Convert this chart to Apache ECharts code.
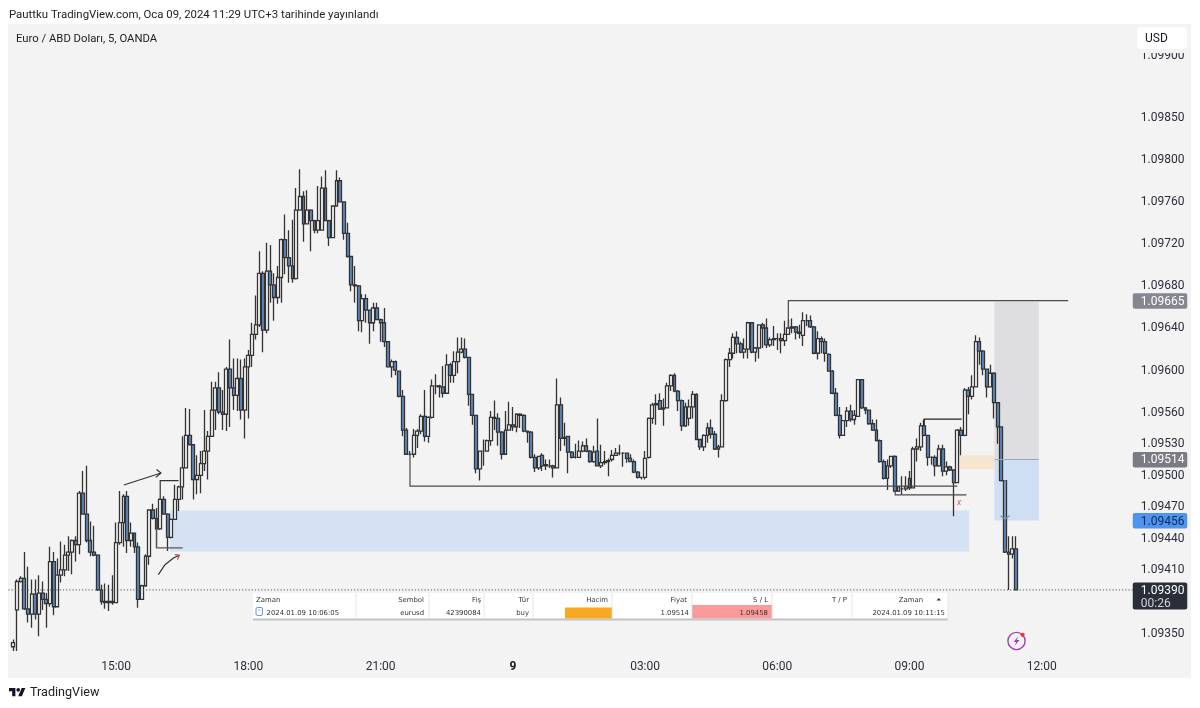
<!DOCTYPE html>
<html>
<head>
<meta charset="utf-8">
<title>Euro / ABD Dolari</title>
<script src="https://cdn.jsdelivr.net/npm/echarts@6/dist/echarts.min.js"></script>
<style>
html, body { margin: 0; padding: 0; background: #fff; }
#chart { width: 1200px; height: 708px; }
</style>
</head>
<body>
<div id="chart"></div>
<script>
// all candle values are points above 1.09000, so 390 means 1.09390
const opens = [
336,371,398,401,372,367,386,367,387,381, 377,417,374,404,409,423,426,437,433,482,
462,437,426,423,390,379,378,379,378,435, 454,479,437,444,431,381,394,422,466,458,
448,476,462,440,457,476,488,506,537,528, 495,499,510,522,536,561,582,559,557,600,
582,575,591,561,602,613,633,642,691,637, 693,680,668,687,723,706,698,686,751,764,
738,751,741,732,732,772,741,725,755,779, 759,729,707,680,679,646,667,656,644,658,
647,644,626,602,607,598,574,542,519,519, 537,541,555,536,554,584,584,583,577,604,
594,607,616,619,611,576,556,505,522,522, 532,554,553,540,519,542,547,545,557,556,
541,540,516,506,518,509,508,508,506,566, 534,536,521,516,516,522,527,522,512,522,
508,511,512,514,518,520,520,520,515,512, 502,497,497,516,553,566,570,562,563,584,
594,579,570,546,553,564,576,533,526,537, 544,538,524,526,570,609,615,630,624,616,
619,644,616,620,642,639,623,628,629,629, 627,633,639,640,635,632,646,646,640,615,
629,626,614,598,577,556,537,551,560,552, 555,590,563,561,548,542,532,512,496,508,
517,484,486,486,496,487,524,526,546,537, 516,516,508,524,503,507,504,492,542,537,
580,574,583,626,617,600,583,596,568,545, 494,426,424,429];
const closes = [
340,398,401,372,367,386,367,387,381,377, 417,374,404,409,423,426,437,433,482,462,
437,426,423,390,379,378,379,378,435,454, 479,437,444,431,381,394,422,466,458,448,
476,462,440,457,476,488,506,537,528,495, 499,510,522,536,561,582,559,557,600,582,
575,591,561,602,613,633,642,691,637,693, 680,668,687,723,706,698,686,751,764,738,
751,741,732,741,772,741,725,755,779,759, 729,707,680,679,646,667,656,644,658,647,
644,626,602,607,599,574,542,519,519,537, 541,555,536,554,584,584,583,577,604,594,
607,616,619,611,576,556,505,522,522,532, 554,553,540,519,542,547,545,557,556,541,
540,516,506,517,508,508,508,506,566,534, 535,521,516,516,522,527,522,512,521,508,
511,512,513,518,520,520,520,515,512,502, 497,497,515,553,566,567,562,563,584,594,
579,570,546,564,564,576,533,526,537,544, 538,524,526,570,609,615,630,624,616,619,
644,616,620,642,639,623,628,629,629,627, 633,639,640,635,634,646,646,640,615,629,
626,615,598,577,556,537,551,560,552,556, 590,563,561,548,542,532,512,496,508,517,
484,488,486,488,487,524,526,546,537,516, 516,508,524,503,507,504,492,542,537,580,
574,583,626,617,600,583,596,568,545,494, 426,424,429,390];
const lows = [
332,332,397,371,359,354,362,346,371,354, 374,366,374,397,403,408,405,417,424,462,
435,422,422,389,376,372,370,376,378,433, 431,425,431,425,373,381,393,414,457,430,
447,462,427,439,457,465,476,506,528,476, 481,482,503,495,536,542,557,542,541,545,
561,560,552,534,553,602,628,640,616,634, 663,646,662,663,690,682,682,685,751,721,
738,712,729,729,732,741,717,725,755,759, 723,706,674,663,636,635,644,624,636,647,
626,621,602,592,594,573,536,519,518,516, 525,538,531,530,553,576,573,573,577,587,
587,596,615,610,565,547,501,494,508,522, 527,542,527,514,519,542,541,540,544,540,
530,515,502,504,503,504,506,497,506,522, 527,501,515,515,516,521,521,511,511,508,
506,509,498,512,518,518,507,511,512,501, 496,495,495,515,548,547,561,546,563,579,
578,560,541,545,546,553,533,523,522,530, 534,523,516,526,569,602,610,615,615,610,
610,615,607,610,620,620,621,622,618,615, 622,633,634,628,629,622,641,639,614,609,
615,607,598,576,555,534,537,545,550,547, 555,562,557,547,541,531,511,495,485,506,
483,483,481,484,485,487,512,522,536,508, 509,498,507,498,499,503,460,492,518,536,
557,571,583,604,594,573,583,553,529,493, 425,390,420,390];
const highs = [
343,400,403,426,412,400,400,404,398,387, 431,426,420,436,433,441,438,441,484,503,
508,455,451,424,395,396,395,404,454,484, 481,484,454,444,435,395,424,466,472,468,
477,479,463,458,490,489,536,563,562,528, 518,522,561,541,588,588,597,580,602,628,
610,610,609,610,618,644,670,712,693,720, 718,691,698,724,747,732,742,772,790,769,
770,752,742,774,783,789,742,755,789,782, 759,739,707,698,680,671,671,656,663,663,
648,658,626,609,608,598,580,544,522,543, 543,557,580,555,590,595,585,603,614,606,
617,630,630,629,611,576,556,522,533,533, 560,570,558,541,560,569,564,558,558,557,
541,541,519,517,520,514,514,509,591,573, 549,536,522,529,532,531,534,523,527,553,
528,522,515,523,525,528,521,520,519,514, 503,497,522,554,568,576,577,572,587,595,
596,580,571,568,571,579,577,533,538,549, 552,541,528,576,610,620,634,636,626,629,
645,644,621,642,644,648,630,641,634,634, 646,647,648,641,642,654,652,651,641,636,
631,629,615,599,582,564,551,564,566,561, 590,590,564,561,552,552,533,514,514,517,
518,488,498,498,503,526,534,549,552,537, 517,518,528,528,512,508,504,543,545,582,
583,594,632,630,618,600,604,597,568,545, 494,441,441,441];

// y axis labels, the picture prints 1.09850 a little low so it sits at 1.09840
const yTickValues = [1.09899, 1.0984, 1.098, 1.0976, 1.0972, 1.0968, 1.0964, 1.096, 1.0956, 1.0953, 1.095, 1.0947, 1.0944, 1.0941, 1.0935];
const yTickLabels = ['1.09900', '1.09850', '1.09800', '1.09760', '1.09720', '1.09680', '1.09640', '1.09600', '1.09560', '1.09530', '1.09500', '1.09470', '1.09440', '1.09410', '1.09350'];

const barCount = 305;       // 274 candles and the empty space on the right
const firstBarMinutes = 760; // 12:40
const firstLabelBar = 28;   // 15:00
const labelEveryBars = 36;

// price tags on the axis
const tagPrices = [1.09665, 1.09514, 1.09456, 1.0939];
const tagTexts = ['1.09665', '1.09514', '1.09456', '1.09390'];
const tagSubTexts = ['', '', '', '00:26'];

// drawings on the chart: bar from, bar to, points top, points bottom
const zoneRects = [
    [42.7, 260.2, 465.5, 426.6],
    [267.1, 279.2, 664, 514],
    [267.1, 279.2, 514, 456],
    [257.7, 267.1, 518, 505]
];
// polylines as [bar, points]
const drawnLines = [
    [[211, 639], [211, 665], [287.2, 665]],
    [[108, 519], [108, 488.6], [257, 488.6]],
    [[240.1, 484], [240.1, 480.4], [259.5, 480.4]],
    [[248, 546], [248, 552.4], [258.2, 552.4]],
    [[40, 476], [40, 494], [45, 494]],
    [[39, 458], [39, 430], [46.1, 430]],
    [[30.1, 489.8], [40.2, 501.2]],
    [[39, 504.4], [40.2, 501.2], [38.8, 497]],
    [[39.5, 404.6], [41.3, 414], [43.6, 420.4], [45.2, 423]],
    [[44, 423.6], [45.2, 423], [44.7, 418.8]],
    [[267.1, 514], [279.2, 514]],
    [[270, 494.7], [270, 457.3]],
    [[268.8, 460.5], [270, 457.3], [271.2, 460.5]]
];
const crossMark = [257.5, 472.5];

// the position list at the bottom of the chart
const tableHeaders = ['Zaman', 'Sembol', 'Fiş', 'Tür', 'Hacim', 'Fiyat', 'S / L', 'T / P', 'Zaman'];
const tableRow = ['2024.01.09 10:06:05', 'eurusd', '42390084', 'buy', '', '1.09514', '1.09458', '', '2024.01.09 10:11:15'];

const titleText = 'Pauttku TradingView.com, Oca 09, 2024 11:29 UTC+3 tarihinde yayınlandı';
const symbolText = 'Euro / ABD Doları, 5, OANDA';

const AXIS_FONT = 'Roboto, sans-serif';
const zoneColors = ['#d5e2f3', '#dedee1', '#cfdff3', '#f6e5cf'];
const lineColors = ['#4a4a4a', '#4a4a4a', '#4a4a4a', '#222', '#333', '#555', '#333', '#333', '#333', '#b5454f', '#9aa6bb', '#8fa3c0', '#7a8da8'];
const tagColors = ['#858690', '#7a7b84', '#4f94ef', '#2a2e39'];
const tagTextColors = ['#fff', '#fff', '#0f2a5a', '#fff'];

function toPrice(points)
{
    return 1.09 + points / 100000;
}

let candles = [];
for(let i = 0; i < opens.length; i++)
{
    candles.push([toPrice(opens[i]), toPrice(closes[i]), toPrice(lows[i]), toPrice(highs[i])]);
}

let barTimes = [];
for(let i = 0; i < barCount; i++)
{
    let m = (firstBarMinutes + i * 5) % 1440;
    barTimes.push(String(Math.floor(m / 60)).padStart(2, '0') + ':' + String(m % 60).padStart(2, '0'));
}

function render_zone(params, api)
{
    let a = api.coord([api.value(0), api.value(2)]);
    let b = api.coord([api.value(1), api.value(3)]);
    return {
        type: 'rect',
        shape: { x: a[0], y: a[1], width: b[0] - a[0], height: b[1] - a[1] },
        style: { fill: zoneColors[params.dataIndex] }
    };
}

function render_line(params, api)
{
    let pts = drawnLines[params.dataIndex].map(p => api.coord([p[0], toPrice(p[1])]));
    return {
        type: 'polyline',
        shape: { points: pts },
        style: { stroke: lineColors[params.dataIndex], lineWidth: 1.2, fill: null }
    };
}

function render_cross(params, api)
{
    let p = api.coord([api.value(0), api.value(1)]);
    return {
        type: 'text',
        style: { x: p[0], y: p[1], text: 'x', fill: '#d9606c', font: 'italic 9px ' + AXIS_FONT, align: 'center', verticalAlign: 'middle' }
    };
}

function render_tag(params, api)
{
    let i = params.dataIndex;
    let y = api.coord([0, api.value(1)])[1];
    let left = params.coordSys.x + params.coordSys.width + 1;
    let sub = tagSubTexts[i];
    let children = [
        {
            type: 'rect',
            shape: { x: left, y: y - 7.5, width: 54.5, height: sub ? 27 : 15.5, r: 2 },
            style: { fill: tagColors[i] }
        },
        {
            type: 'text',
            style: { x: left + 8, y: y + 1, text: tagTexts[i], fill: tagTextColors[i], font: '12px ' + AXIS_FONT, verticalAlign: 'middle' }
        }
    ];
    if(sub)
    {
        // the dotted last price line and the countdown
        children.push({
            type: 'line',
            shape: { x1: params.coordSys.x - 3, y1: y, x2: left, y2: y },
            style: { stroke: '#555', lineWidth: 1, lineDash: [1.2, 2] }
        });
        children.push({
            type: 'text',
            style: { x: left + 8, y: y + 14, text: sub, fill: '#d1d4dc', font: '12px ' + AXIS_FONT, verticalAlign: 'middle' }
        });
    }
    return { type: 'group', children: children };
}

// table cells, right edges
const cellEdges = [356, 429, 484, 533, 612, 692, 772, 852, 948];
const headerRight = [0, 424, 481, 529, 608, 687, 768, 847, 923];
const rowRight = [0, 424, 481, 529, 0, 689, 768, 0, 945];

function table_elements()
{
    let items = [];
    const TABLE_Z = 50;
    const font = '6.9px "DejaVu Sans", sans-serif';
    items.push({ type: 'rect', z: TABLE_Z, shape: { x: 253, y: 593, width: 695, height: 25.5 }, style: { fill: '#fff' } });
    items.push({ type: 'rect', z: TABLE_Z, shape: { x: 253, y: 618.5, width: 695, height: 2 }, style: { fill: '#c4c4c4' } });
    items.push({ type: 'rect', z: TABLE_Z + 1, shape: { x: 565, y: 607.5, width: 47, height: 11 }, style: { fill: '#f9a825' } });
    items.push({ type: 'rect', z: TABLE_Z + 1, shape: { x: 692, y: 605, width: 80, height: 13.5 }, style: { fill: '#fb9a9a' } });
    cellEdges.forEach(x => {
        items.push({ type: 'line', z: TABLE_Z + 2, shape: { x1: x, y1: 593, x2: x, y2: 618.5 }, style: { stroke: '#dcdcdc', lineWidth: 0.7 } });
    });
    tableHeaders.forEach((text, i) => {
        items.push({
            type: 'text', z: TABLE_Z + 3,
            style: { x: i == 0 ? 256 : headerRight[i], y: 600.5, text: text, font: font, fill: '#333', align: i == 0 ? 'left' : 'right', verticalAlign: 'middle' }
        });
    });
    tableRow.forEach((text, i) => {
        if(!text) return;
        items.push({
            type: 'text', z: TABLE_Z + 3,
            style: { x: i == 0 ? 266.5 : rowRight[i], y: 613, text: text, font: font, fill: '#333', align: i == 0 ? 'left' : 'right', verticalAlign: 'middle' }
        });
    });
    // little note icon and the sort arrow
    items.push({ type: 'rect', z: TABLE_Z + 3, shape: { x: 256, y: 607.5, width: 6.5, height: 8, r: 1.5 }, style: { fill: '#fff', stroke: '#3a7bd5', lineWidth: 0.8 } });
    items.push({ type: 'line', z: TABLE_Z + 3, shape: { x1: 258, y1: 610, x2: 260.5, y2: 610 }, style: { stroke: '#3a7bd5', lineWidth: 0.6 } });
    items.push({ type: 'polygon', z: TABLE_Z + 3, shape: { points: [[936.5, 600.5], [941, 600.5], [938.8, 598]] }, style: { fill: '#333' } });
    return items;
}

function page_elements()
{
    return [
        { type: 'rect', z: -10, shape: { x: 8, y: 24, width: 1183, height: 654 }, style: { fill: '#f3f3f3' } },
        { type: 'text', z: 60, style: { x: 9, y: 15, text: titleText, font: '11.4px ' + AXIS_FONT, fill: '#222', verticalAlign: 'middle' } },
        { type: 'text', z: 60, style: { x: 16, y: 39, text: symbolText, font: '11.3px ' + AXIS_FONT, fill: '#222', verticalAlign: 'middle' } },
        // the USD button, its lower fade cuts the top of the first tick label
        { type: 'rect', z: 99, shape: { x: 1137, y: 45, width: 50, height: 8 }, style: { fill: '#f3f3f3' } },
        { type: 'rect', z: 100, shape: { x: 1137, y: 27, width: 50, height: 22, r: 4 }, style: { fill: '#fff' } },
        { type: 'text', z: 101, style: { x: 1145, y: 39, text: 'USD', font: '12px ' + AXIS_FONT, fill: '#131722', verticalAlign: 'middle' } },
        // TradingView logo
        { type: 'polygon', z: 60, shape: { points: [[9, 688], [15.4, 688], [15.4, 696.3], [12.2, 696.3], [12.2, 691.2], [9, 691.2]] }, style: { fill: '#131722' } },
        { type: 'circle', z: 60, shape: { cx: 18.2, cy: 689.9, r: 1.8 }, style: { fill: '#131722' } },
        { type: 'polygon', z: 60, shape: { points: [[21.7, 688], [25.3, 688], [21.9, 696.3], [18.2, 696.3]] }, style: { fill: '#131722' } },
        { type: 'text', z: 60, style: { x: 30, y: 692.5, text: 'TradingView', font: '12.6px ' + AXIS_FONT, fill: '#222', verticalAlign: 'middle' } },
        // lightning badge
        { type: 'circle', z: 60, shape: { cx: 1016.5, cy: 641, r: 8.6 }, style: { fill: 'none', stroke: '#a43fb5', lineWidth: 1.4 } },
        { type: 'polygon', z: 60, shape: { points: [[1018.5, 636], [1013.5, 642], [1016.3, 642], [1014.5, 646], [1019.5, 640], [1016.7, 640]] }, style: { fill: '#a43fb5' } },
        { type: 'circle', z: 61, shape: { cx: 1022.6, cy: 634.8, r: 2.1 }, style: { fill: '#e53935' } }
    ].concat(table_elements());
}

const myChart = echarts.init(document.getElementById('chart'), null, { renderer: 'canvas' });

let option = {
    animation: false,
    backgroundColor: '#fff',
    grid: { left: 11.46, top: 24, width: 1120.3, height: 628 },
    graphic: { elements: page_elements() },
    xAxis: [
        {
            type: 'category',
            data: barTimes,
            boundaryGap: true,
            axisLine: { show: false },
            axisTick: { show: false },
            splitLine: { show: false },
            axisLabel: {
                margin: 9,
                interval: index => index >= firstLabelBar && (index - firstLabelBar) % labelEveryBars == 0,
                formatter: value => value == '00:00' ? '{day|9}' : value,
                color: '#2a2e39',
                fontFamily: AXIS_FONT,
                fontSize: 12,
                rich: { day: { fontWeight: 'bold', fontSize: 12, fontFamily: AXIS_FONT, color: '#131722' } }
            }
        },
        {
            // same span as the bars, lets the drawings sit between two bars
            type: 'value',
            show: false,
            min: -0.5,
            max: barCount - 0.5
        }
    ],
    yAxis: {
        type: 'value',
        position: 'right',
        min: 1.09331,
        max: 1.09928,
        axisLine: { show: false },
        axisTick: { show: false },
        splitLine: { show: false },
        axisLabel: {
            margin: 9,
            customValues: yTickValues,
            formatter: value => {
                let k = yTickValues.findIndex(v => Math.abs(v - value) < 1e-7);
                return k >= 0 ? '{tick|' + yTickLabels[k] + '}' : '';
            },
            color: '#2a2e39',
            fontFamily: AXIS_FONT,
            fontSize: 12,
            // pushes the labels down to where the picture has them
            rich: { tick: { color: '#2a2e39', fontFamily: AXIS_FONT, fontSize: 12, padding: [3, 0, 0, 0] } }
        }
    },
    series: [
        {
            type: 'custom',
            name: 'zones',
            xAxisIndex: 1,
            z: 1,
            silent: true,
            clip: false,
            renderItem: render_zone,
            encode: { x: [0, 1], y: [2, 3] },
            data: zoneRects.map(r => [r[0], r[1], toPrice(r[2]), toPrice(r[3])])
        },
        {
            type: 'candlestick',
            name: 'EURUSD',
            z: 2,
            barWidth: 3.4,
            itemStyle: {
                color: '#ffffff',
                color0: '#5f8cc4',
                borderColor: '#333333',
                borderColor0: '#333333',
                borderWidth: 1.3
            },
            data: candles
        },
        {
            type: 'custom',
            name: 'lines',
            xAxisIndex: 1,
            z: 3,
            silent: true,
            clip: false,
            renderItem: render_line,
            encode: { x: 0, y: 1 },
            data: drawnLines.map(l => [l[0][0], toPrice(l[0][1])])
        },
        {
            type: 'custom',
            name: 'cross',
            xAxisIndex: 1,
            z: 3,
            silent: true,
            clip: false,
            renderItem: render_cross,
            encode: { x: 0, y: 1 },
            data: [[crossMark[0], toPrice(crossMark[1])]]
        },
        {
            type: 'custom',
            name: 'tags',
            xAxisIndex: 1,
            z: 5,
            silent: true,
            clip: false,
            renderItem: render_tag,
            encode: { x: 0, y: 1 },
            data: tagPrices.map(p => [0, p])
        }
    ]
};
myChart.setOption(option);
</script>
</body>
</html>
